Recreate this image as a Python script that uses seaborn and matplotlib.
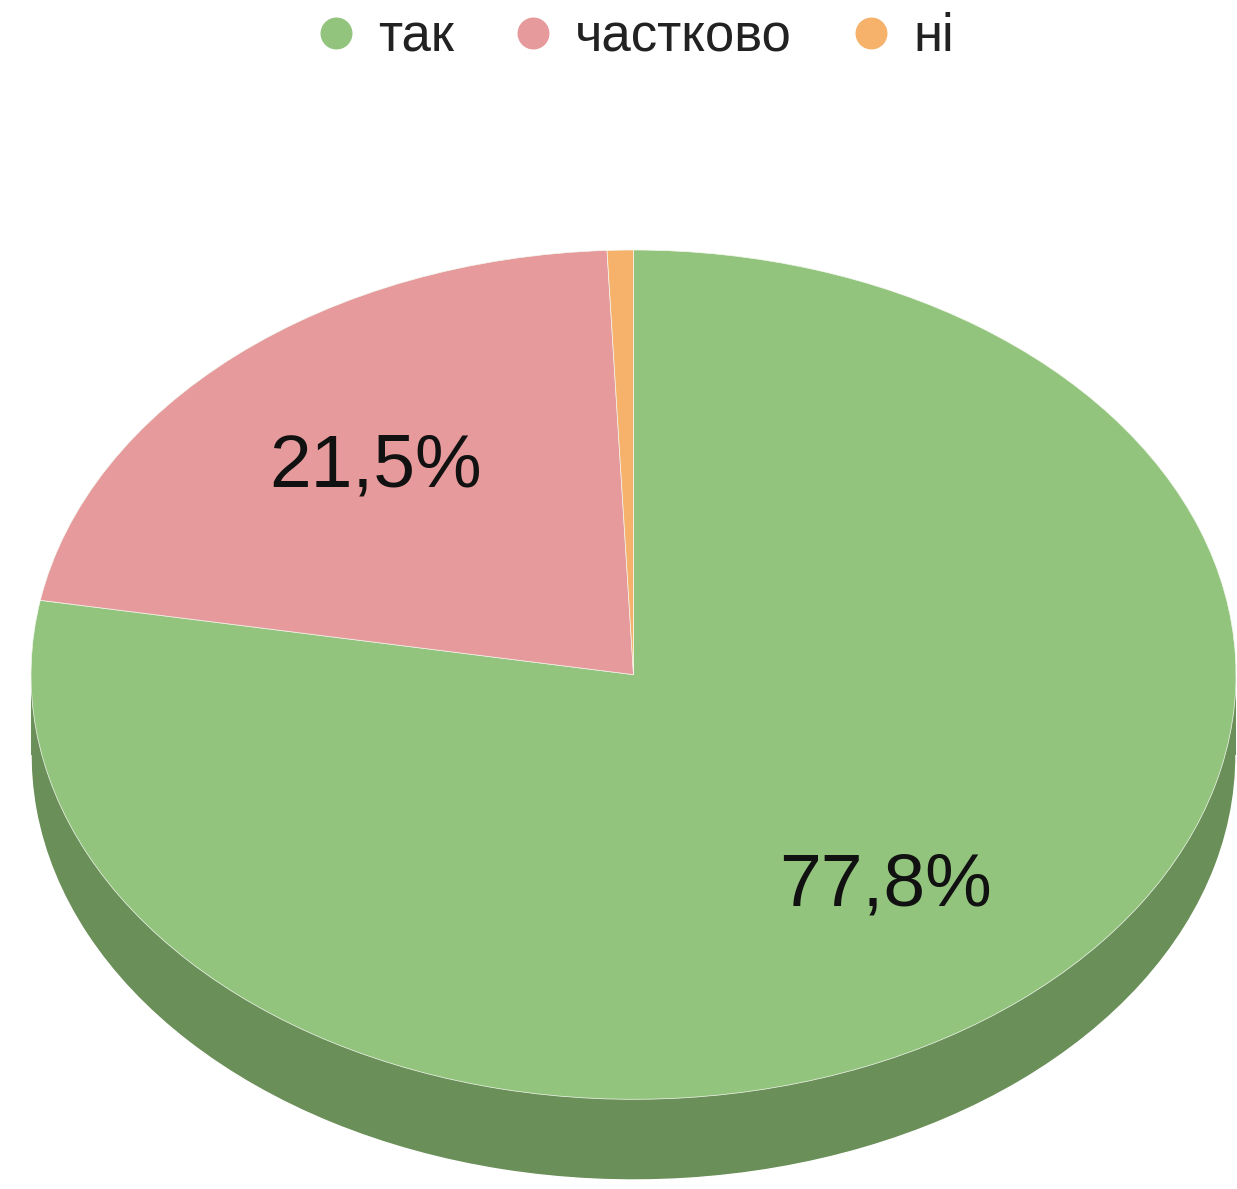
import matplotlib
matplotlib.use("Agg")
import matplotlib.pyplot as plt
import seaborn as sns
from matplotlib.lines import Line2D
from matplotlib.patches import Rectangle

sns.set_theme(style="white")
plt.rcParams["font.family"] = ["Liberation Sans", "DejaVu Sans"]

# ==================================
# DATA
# ==================================
labels = ["так", "частково", "ні"]
values = [77.8, 21.5, 0.7]

colors = ["#93c47d", "#e69a9c", "#f6b26b"]
side_colors = ["#6a8f58", "#a86f70", "#b5824e"]

DEPTH = 0.19  # thickness of the 3d wall, in radius units


def pct_label(p):
    if p < 5:
        return ""
    return f"{p:.1f}%".replace(".", ",")


# ==================================
# FIGURE
# ==================================
W, H = 1237, 1189
fig = plt.figure(figsize=(W / 100, H / 100), dpi=100)

left, right = 31, 1236
top, bottom = 250, 1180
ax = fig.add_axes([left / W, (H - bottom) / H, (right - left) / W, (bottom - top) / H])

# side wall: lower copy of the pie + band between
ax.pie(values, colors=side_colors, startangle=90, counterclock=False,
       center=(0, -DEPTH), radius=1)
ax.add_patch(Rectangle((-1, -DEPTH), 2, DEPTH, facecolor=side_colors[0],
                       edgecolor="none"))

# top face
wedges, texts, autotexts = ax.pie(
    values,
    colors=colors,
    startangle=90,
    counterclock=False,
    radius=1,
    autopct=pct_label,
    pctdistance=0.65,
    wedgeprops=dict(edgecolor="#f4f8f0", linewidth=0.5),
    textprops=dict(fontsize=54, color="#111111"),
)

ax.set_aspect("auto")
ax.set_xlim(-1, 1)
ax.set_ylim(-1 - DEPTH, 1)
ax.axis("off")

# ==================================
# LEGEND
# ==================================
handles = [
    Line2D([], [], marker="o", linestyle="", markersize=22,
           markerfacecolor=c, markeredgecolor=c)
    for c in colors
]
fig.legend(
    handles,
    labels,
    loc="center",
    bbox_to_anchor=(0.515, 1 - 37 / H),
    ncol=3,
    frameon=False,
    fontsize=38,
    handlelength=0.6,
    handletextpad=0.5,
    columnspacing=1.2,
    labelcolor="#222222",
)

fig.savefig("out.png", dpi=100)
